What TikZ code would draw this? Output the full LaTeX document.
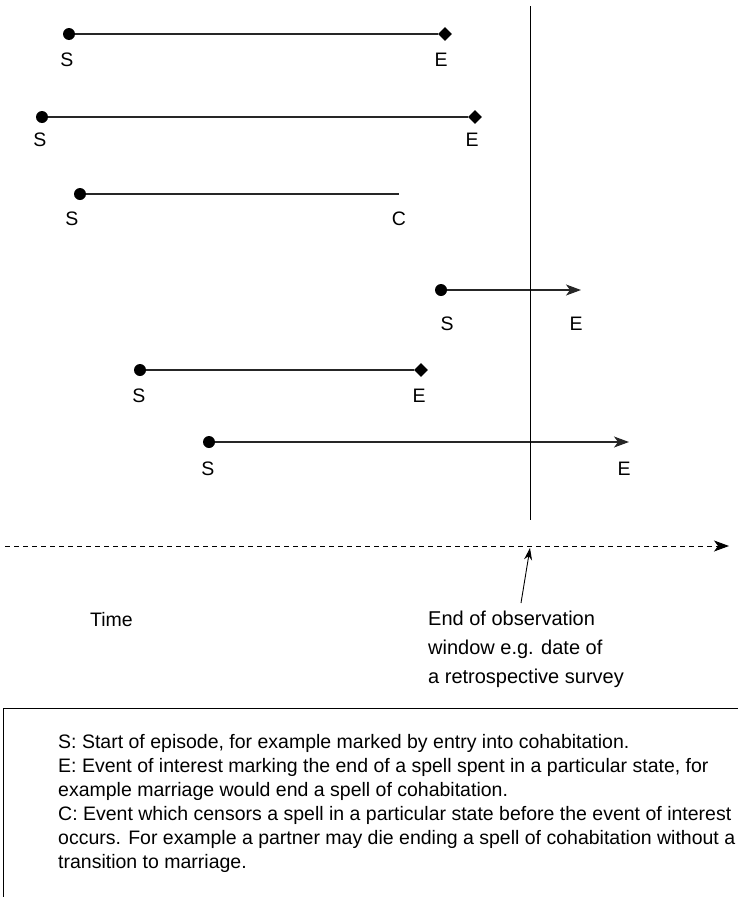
\documentclass[tikz,border=0pt]{standalone}
\usepackage{fontspec}
\setmainfont{Liberation Sans}
\usetikzlibrary{arrows,arrows.meta,positioning,shapes.geometric}

\begin{document}
\begin{tikzpicture}[x=1pt,y=-1pt,>=stealth',
  start/.style={circle,fill,inner sep=0pt,minimum size=12pt},
  stop/.style={diamond,fill,inner sep=0pt,minimum size=14pt},
  lab/.style={font=\fontsize{19.5}{22}\selectfont},
  spell/.style={line width=1.2pt,draw=black!85},
  tip/.style={-{Stealth[length=15pt,width=11pt,inset=4pt]}}]
  \useasboundingbox (0,0) rectangle (738,897);
  % spells
  \node[start] (s1) at (69,34) {};
  \node[stop]  (e1) at (445,34) {};
  \node[start] (s2) at (42,117) {};
  \node[stop]  (e2) at (475,117) {};
  \node[start] (s3) at (80,194) {};
  \coordinate  (c3) at (399,194);
  \node[start] (s4) at (441,290) {};
  \coordinate  (e4) at (581,290);
  \node[start] (s5) at (140,370) {};
  \node[stop]  (e5) at (421,370) {};
  \node[start] (s6) at (209,442) {};
  \coordinate  (e6) at (629,442);
  \draw[spell] (s1) -- (e1);
  \draw[spell] (s2) -- (e2);
  \draw[spell] (s3) -- (c3);
  \draw[spell,tip] (s4) -- (e4);
  \draw[spell] (s5) -- (e5);
  \draw[spell,tip] (s6) -- (e6);
  % labels
  \node[lab] at (67,60) {S};   \node[lab] at (441,60) {E};
  \node[lab] at (40,140) {S};  \node[lab] at (472,140) {E};
  \node[lab] at (72,219) {S};  \node[lab] at (399,219) {C};
  \node[lab] at (447,324) {S}; \node[lab] at (576,324) {E};
  \node[lab] at (139,396) {S}; \node[lab] at (419,396) {E};
  \node[lab] at (208,469) {S}; \node[lab] at (624,469) {E};
  % observation window
  \coordinate (wtop) at (530,6);
  \coordinate (wbot) at (530,520);
  \draw[line width=0.8pt] (wtop) -- (wbot);
  \coordinate (t0) at (5,546);
  \coordinate (t1) at (729,546);
  \coordinate (win) at (530,548);
  \draw[line width=0.9pt,dash pattern=on 5pt off 4pt,tip] (t0) -- (t1);
  \node[lab,anchor=west,inner sep=0pt] (time) at (90,620) {Time};
  \node[anchor=north west,align=left,inner sep=0pt,
    font=\fontsize{20}{29}\selectfont] (obs) at (428,611)
    {End of observation\\window e.g. date of\\a retrospective survey};
  \coordinate (ptr) at (521,603);
  \draw[line width=0.9pt,-{Stealth[length=12pt,width=8pt]}] (ptr) -- (win);
  % key
  \draw[line width=0.8pt] (3,897) -- (3,708) -- (738,708);
  \node[anchor=north west,align=left,inner sep=0pt,
    font=\fontsize{19.5}{24}\selectfont] (key) at (58,734)
    {S: Start of episode, for example marked by entry into cohabitation.\\
     E: Event of interest marking the end of a spell spent in a particular state, for\\
     example marriage would end a spell of cohabitation.\\
     C: Event which censors a spell in a particular state before the event of interest\\
     occurs. For example a partner may die ending a spell of cohabitation without a\\
     transition to marriage.};
\end{tikzpicture}
\end{document}
